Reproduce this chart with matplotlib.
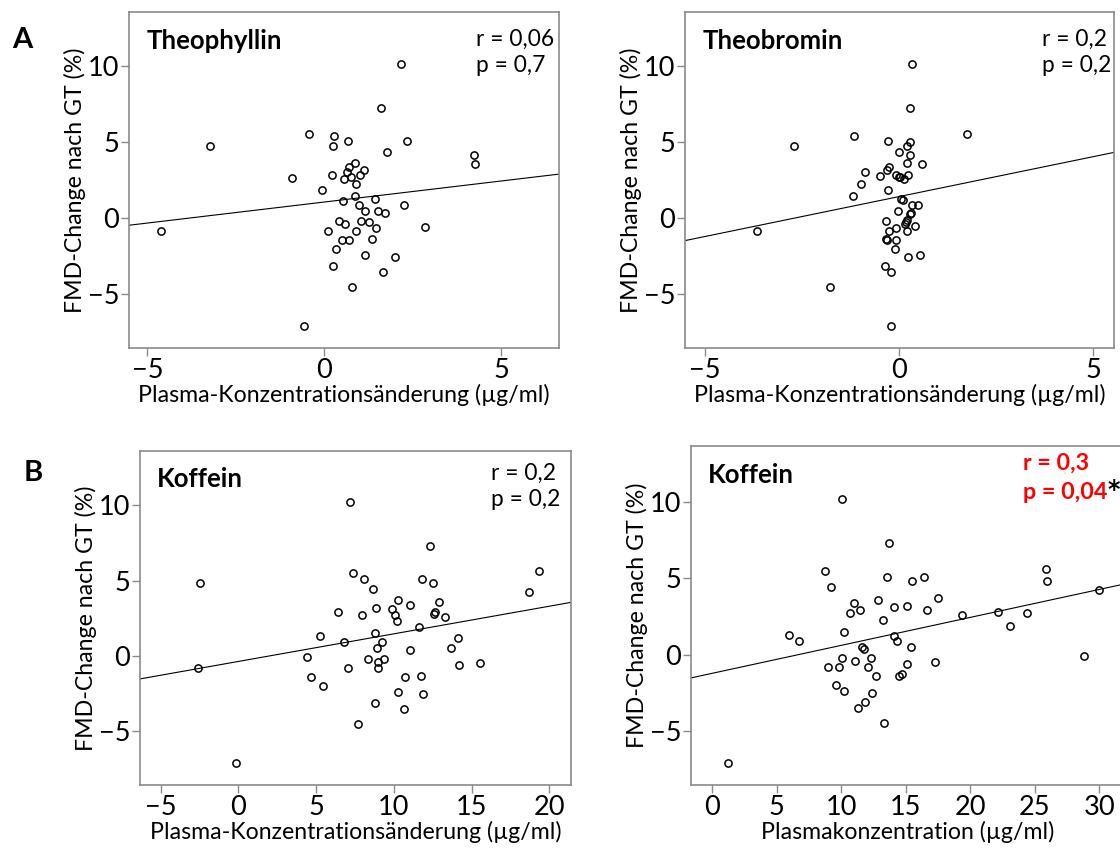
'''Scatter plots: FMD change vs. plasma concentration of methylxanthines'''
import matplotlib
matplotlib.use('Agg')
import matplotlib.pyplot as plt
import numpy as np

plt.rcParams['font.family'] = ['Lato', 'DejaVu Sans']

# --- data ---
theophyllin_x = [2.17, 1.59, -0.42, 0.27, 0.66, 0.24, -3.24, 2.34, 1.77, 4.23,
                 4.26, 0.86, 0.71, 1.13, 0.65, 0.22, 1.01, 0.75, 0.56, 0.90,
                 -0.92, -0.08, 0.86, 0.54, 1.42, 0.98, 2.25, 1.14, 1.51, 1.72,
                 0.42, 0.57, 1.04, 1.27, 1.45, 2.83, -4.62, 0.11, 0.90, 0.51,
                 0.69, 1.34, 0.32, 1.14, 1.99, 0.25, 1.66, 0.79, -0.58]
theophyllin_y = [10.15, 7.26, 5.55, 5.44, 5.07, 4.76, 4.76, 5.07, 4.36, 4.16,
                 3.54, 3.63, 3.36, 3.16, 3.01, 2.85, 2.83, 2.72, 2.57, 2.26,
                 2.65, 1.84, 1.44, 1.13, 1.24, 0.84, 0.84, 0.44, 0.44, 0.35,
                 -0.24, -0.44, -0.18, -0.27, -0.66, -0.58, -0.86, -0.86, -0.86, -1.46,
                 -1.46, -1.37, -2.06, -2.46, -2.57, -3.16, -3.56, -4.56, -7.17]

theobromin_x = [0.34, 0.29, -1.17, 1.74, -0.28, 0.29, -2.71, 0.20, 0.00, 0.28,
                0.20, 0.60, -0.27, -0.31, -0.89, -0.50, -0.08, -0.01, 0.03, 0.12,
                0.22, -0.97, -0.28, -1.19, 0.04, 0.09, 0.33, 0.48, -0.03, 0.31,
                0.27, 0.21, 0.18, -0.33, 0.15, 0.42, -0.08, -3.66, -0.27, 0.20,
                -0.33, -0.31, -0.08, -0.11, 0.24, 0.53, -0.37, -0.20, -1.79, -0.21]
theobromin_y = [10.15, 7.26, 5.44, 5.55, 5.07, 5.04, 4.76, 4.76, 4.36, 4.16,
                3.65, 3.54, 3.36, 3.19, 3.05, 2.74, 2.85, 2.68, 2.68, 2.54,
                2.85, 2.26, 1.84, 1.46, 1.24, 1.15, 0.84, 0.84, 0.44, 0.35,
                0.27, -0.15, -0.27, -0.24, -0.44, -0.55, -0.66, -0.86, -0.86, -0.86,
                -1.37, -1.46, -1.46, -2.06, -2.57, -2.46, -3.16, -3.56, -4.56, -7.17]

koffein_diff_x = [7.19, 12.36, -2.47, 7.38, 8.05, 11.80, 12.53, 8.63, 19.36, 18.71,
                  10.26, 11.03, 12.90, 8.88, 9.91, 6.44, 7.98, 10.09, 10.21, 12.60,
                  12.68, 13.30, 11.59, 5.26, 8.80, 6.78, 9.27, 14.10, 8.93, 11.03,
                  13.67, 4.40, 8.33, 9.38, 9.01, 8.99, 7.04, 14.19, 15.54, -2.60,
                  4.68, 10.75, 11.78, 5.47, 10.24, 11.85, 8.80, 10.64, 7.68, -0.17]
koffein_diff_y = [10.24, 7.30, 4.82, 5.53, 5.11, 5.11, 4.82, 4.42, 5.62, 4.23,
                  3.72, 3.41, 3.61, 3.21, 3.12, 2.90, 2.72, 2.72, 2.30, 2.81,
                  2.90, 2.61, 1.92, 1.33, 1.53, 0.91, 0.91, 1.22, 0.51, 0.40,
                  0.51, -0.09, -0.20, -0.20, -0.40, -0.80, -0.80, -0.60, -0.49, -0.80,
                  -1.39, -1.39, -1.31, -1.99, -2.39, -2.50, -3.10, -3.50, -4.49, -7.10]

koffein_abs_x = [10.05, 13.72, 8.76, 9.20, 13.51, 15.48, 16.43, 25.89, 25.94, 29.97,
                 17.52, 12.84, 10.96, 11.45, 10.70, 14.06, 15.09, 16.67, 13.25, 19.35,
                 22.17, 24.39, 23.10, 5.97, 6.72, 10.18, 14.06, 14.32, 11.58, 11.73,
                 15.37, 28.81, 10.03, 11.09, 12.30, 15.09, 17.24, 8.97, 9.82, 12.04,
                 12.66, 14.47, 14.73, 9.56, 10.18, 12.40, 11.86, 11.27, 13.33, 1.21]
koffein_abs_y = [10.18, 7.28, 5.49, 4.40, 5.10, 4.80, 5.10, 5.60, 4.80, 4.21,
                 3.71, 3.60, 3.40, 2.90, 2.70, 3.10, 3.20, 2.90, 2.29, 2.59,
                 2.79, 2.70, 1.90, 1.31, 0.92, 1.50, 1.20, 0.92, 0.52, 0.39,
                 0.50, -0.09, -0.20, -0.39, -0.20, -0.59, -0.50, -0.81, -0.81, -0.81,
                 -1.40, -1.40, -1.29, -1.98, -2.38, -2.49, -3.07, -3.47, -4.49, -7.06]

y_label = 'FMD-Change nach GT (%)'
x_label_diff = 'Plasma-Konzentrationsänderung (µg/ml)'
x_label_abs = 'Plasmakonzentration (µg/ml)'

SPINE = '#8a8a8a'
LABEL_SIZE = 16.7


def scatter_panel(fig, rect, x, y, xlim, ylim, xticks, title, xlabel):
    '''Draws one scatter panel with a least-squares line'''
    ax = fig.add_axes(rect)
    x = np.asarray(x)
    y = np.asarray(y)
    ax.plot(x, y, 'o', ms=5.2, mfc='none', mec='black', mew=1.1, zorder=3)
    slope, intercept = np.polyfit(x, y, 1)
    xs = np.array(xlim)
    ax.plot(xs, intercept + slope * xs, color='black', lw=0.8, zorder=2)
    ax.set_xlim(xlim)
    ax.set_ylim(ylim)
    ax.set_xticks(xticks)
    ax.set_yticks([-5, 0, 5, 10])
    ax.tick_params(direction='out', length=6, width=1, color=SPINE,
                   labelsize=19.5, pad=1, labelcolor='black')
    for spine in ax.spines.values():
        spine.set_color(SPINE)
        spine.set_linewidth(1.2)
    ax.set_ylabel(y_label, fontsize=LABEL_SIZE, labelpad=1)
    ax.set_xlabel(xlabel, fontsize=LABEL_SIZE, labelpad=0.5)
    ax.text(0.04, 0.915, title, transform=ax.transAxes, fontsize=18.5,
            fontweight='bold', ha='left', va='center')
    return ax


fig = plt.figure(figsize=(11.2, 8.52), dpi=100)
W, H = 1120, 852


def rect(left, right, top, bottom):
    return [left / W, 1 - bottom / H, (right - left) / W, (bottom - top) / H]


ax1 = scatter_panel(fig, rect(129, 559, 12, 348), theophyllin_x, theophyllin_y,
                    (-5.52, 6.63), (-8.6, 13.6), [-5, 0, 5], 'Theophyllin',
                    x_label_diff)
ax1.text(0.807, 0.95, 'r = 0,06\np = 0,7', transform=ax1.transAxes,
         fontsize=16.4, ha='left', va='top', linespacing=1.3)

ax2 = scatter_panel(fig, rect(685, 1114, 12, 348), theobromin_x, theobromin_y,
                    (-5.52, 5.54), (-8.6, 13.6), [-5, 0, 5], 'Theobromin',
                    x_label_diff)
ax2.text(0.832, 0.95, 'r = 0,2\np = 0,2', transform=ax2.transAxes,
         fontsize=16.4, ha='left', va='top', linespacing=1.3)

ax3 = scatter_panel(fig, rect(140, 571, 451, 785), koffein_diff_x, koffein_diff_y,
                    (-6.33, 21.4), (-8.56, 13.6), [-5, 0, 5, 10, 15, 20],
                    'Koffein', x_label_diff)
ax3.text(0.815, 0.965, 'r = 0,2\np = 0,2', transform=ax3.transAxes,
         fontsize=16.4, ha='left', va='top', linespacing=1.3)

ax4 = scatter_panel(fig, rect(691, 1125, 446, 785), koffein_abs_x, koffein_abs_y,
                    (-1.65, 32.0), (-8.52, 13.65), [0, 5, 10, 15, 20, 25, 30],
                    'Koffein', x_label_abs)
ax4.text(0.765, 0.95, 'r = 0,3', transform=ax4.transAxes, fontsize=16.8,
         fontweight='bold', color='red', ha='left', va='center')
p_text = ax4.text(0.765, 0.862, 'p = 0,04', transform=ax4.transAxes,
                  fontsize=16.8, fontweight='bold', color='red',
                  ha='left', va='center')
ax4.annotate('*', xy=(1.0, 0.62), xycoords=p_text, xytext=(0.3, 0),
             textcoords='offset points', fontsize=17, fontweight='bold',
             color='black', ha='left', va='center', family='DejaVu Sans')

fig.text(12 / W, 1 - 40 / H, 'A', fontsize=21, fontweight='bold',
         ha='left', va='center')
fig.text(24 / W, 1 - 473 / H, 'B', fontsize=21, fontweight='bold',
         ha='left', va='center')

fig.savefig('out.png', dpi=100)
